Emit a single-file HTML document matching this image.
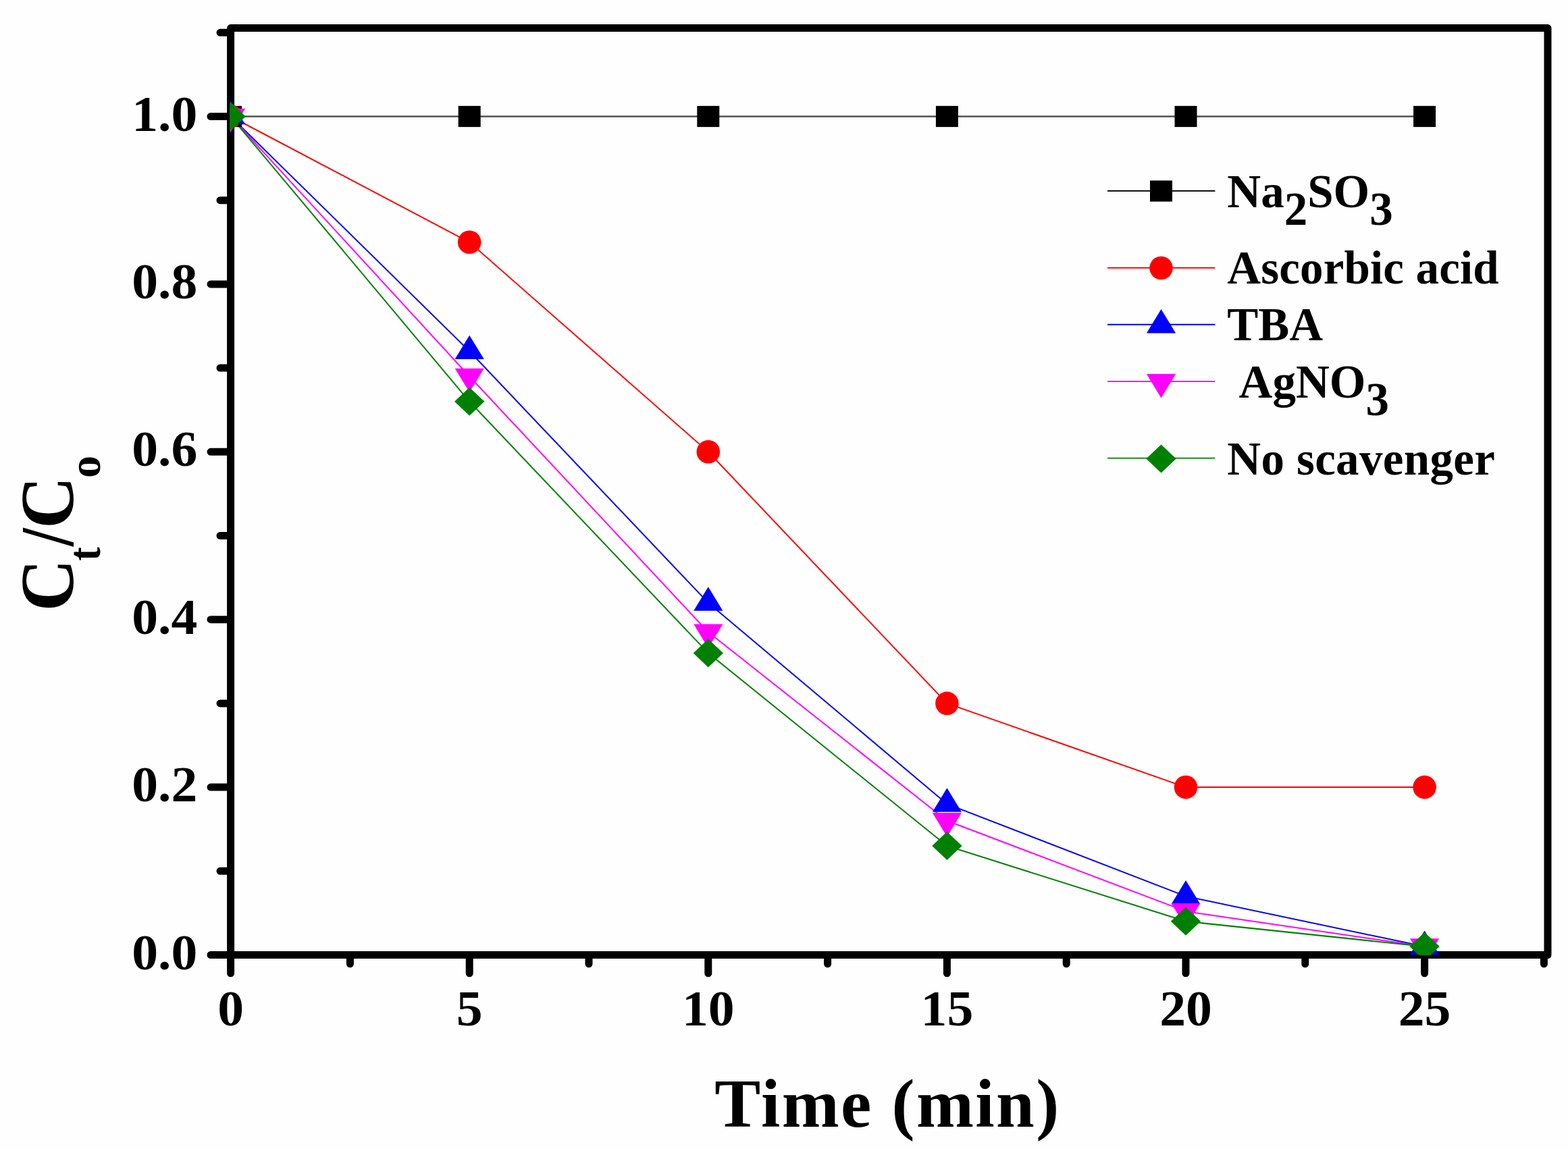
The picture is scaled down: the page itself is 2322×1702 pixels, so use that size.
<!DOCTYPE html>
<html><head><meta charset="utf-8"><title>Ct/Co vs Time</title>
<style>
html,body{margin:0;padding:0;background:#fff;}
svg{display:block;}
text{font-family:"Liberation Serif","Times New Roman",serif;font-weight:bold;fill:#000;}
</style></head><body>
<svg width="2322" height="1702" viewBox="0 0 2322 1702">
<rect width="2322" height="1702" fill="#fefefe"/>
<defs><clipPath id="pc"><rect x="340.2" y="41.6" width="1951.8" height="1373.5"/></clipPath></defs>

<rect x="341.6" y="41.6" width="1950.4" height="1372.9" fill="none" stroke="#000" stroke-width="11" stroke-linejoin="round"/>
<path d="M341.6,1414.5H312M341.6,1166.1H312M341.6,917.7H312M341.6,669.3H312M341.6,420.9H312M341.6,172.5H312M341.6,1290.3H326M341.6,1041.9H326M341.6,793.5H326M341.6,545.1H326M341.6,296.7H326M341.6,48.3H326M341.6,1414.5V1441.8M695.2,1414.5V1441.8M1048.8,1414.5V1441.8M1402.4,1414.5V1441.8M1756.0,1414.5V1441.8M2109.6,1414.5V1441.8M518.4,1414.5V1427.8M872.0,1414.5V1427.8M1225.6,1414.5V1427.8M1579.2,1414.5V1427.8M1932.8,1414.5V1427.8M2286.4,1414.5V1427.8" stroke="#000" stroke-width="11" stroke-linecap="round" fill="none"/>
<g clip-path="url(#pc)">
<polyline points="341.6,172.5 695.2,172.5 1048.8,172.5 1402.4,172.5 1756.0,172.5 2109.6,172.5" fill="none" stroke="#505050" stroke-width="2.4" stroke-linejoin="round"/>
<polyline points="341.6,172.5 695.2,358.8 1048.8,669.3 1402.4,1041.9 1756.0,1166.1 2109.6,1166.1" fill="none" stroke="#ff0000" stroke-width="2.0" stroke-linejoin="round"/>
<polyline points="341.6,172.5 695.2,520.3 1048.8,892.9 1402.4,1190.9 1756.0,1327.6 2109.6,1402.1" fill="none" stroke="#0000ff" stroke-width="2.0" stroke-linejoin="round"/>
<polyline points="341.6,172.5 695.2,557.5 1048.8,936.3 1402.4,1215.8 1756.0,1349.9 2109.6,1402.1" fill="none" stroke="#ff00ff" stroke-width="2.0" stroke-linejoin="round"/>
<polyline points="341.6,172.5 695.2,594.8 1048.8,967.4 1402.4,1253.0 1756.0,1364.8 2109.6,1402.1" fill="none" stroke="#008000" stroke-width="2.0" stroke-linejoin="round"/>
<rect x="325.1" y="156.9" width="33" height="31.2" fill="#000000"/>
<rect x="678.7" y="156.9" width="33" height="31.2" fill="#000000"/>
<rect x="1032.3" y="156.9" width="33" height="31.2" fill="#000000"/>
<rect x="1385.9" y="156.9" width="33" height="31.2" fill="#000000"/>
<rect x="1739.5" y="156.9" width="33" height="31.2" fill="#000000"/>
<rect x="2093.1" y="156.9" width="33" height="31.2" fill="#000000"/>
<circle cx="341.6" cy="172.5" r="17.3" fill="#ff0000"/>
<circle cx="695.2" cy="358.8" r="17.3" fill="#ff0000"/>
<circle cx="1048.8" cy="669.3" r="17.3" fill="#ff0000"/>
<circle cx="1402.4" cy="1041.9" r="17.3" fill="#ff0000"/>
<circle cx="1756.0" cy="1166.1" r="17.3" fill="#ff0000"/>
<circle cx="2109.6" cy="1166.1" r="17.3" fill="#ff0000"/>
<polygon points="341.6,148.9 363.2,184.3 320.0,184.3" fill="#0000ff"/>
<polygon points="695.2,496.7 716.8,532.1 673.6,532.1" fill="#0000ff"/>
<polygon points="1048.8,869.3 1070.4,904.7 1027.2,904.7" fill="#0000ff"/>
<polygon points="1402.4,1167.3 1424.0,1202.7 1380.8,1202.7" fill="#0000ff"/>
<polygon points="1756.0,1304.0 1777.6,1339.4 1734.4,1339.4" fill="#0000ff"/>
<polygon points="2109.6,1378.5 2131.2,1413.9 2088.0,1413.9" fill="#0000ff"/>
<polygon points="320.0,160.7 363.2,160.7 341.6,196.1" fill="#ff00ff"/>
<polygon points="673.6,545.7 716.8,545.7 695.2,581.1" fill="#ff00ff"/>
<polygon points="1027.2,924.5 1070.4,924.5 1048.8,959.9" fill="#ff00ff"/>
<polygon points="1380.8,1204.0 1424.0,1204.0 1402.4,1239.4" fill="#ff00ff"/>
<polygon points="1734.4,1338.1 1777.6,1338.1 1756.0,1373.5" fill="#ff00ff"/>
<polygon points="2088.0,1390.3 2131.2,1390.3 2109.6,1425.7" fill="#ff00ff"/>
<polygon points="341.6,151.5 363.8,172.5 341.6,193.5 319.4,172.5" fill="#008000"/>
<polygon points="695.2,573.8 717.4,594.8 695.2,615.8 673.0,594.8" fill="#008000"/>
<polygon points="1048.8,946.4 1071.0,967.4 1048.8,988.4 1026.6,967.4" fill="#008000"/>
<polygon points="1402.4,1232.0 1424.6,1253.0 1402.4,1274.0 1380.2,1253.0" fill="#008000"/>
<polygon points="1756.0,1343.8 1778.2,1364.8 1756.0,1385.8 1733.8,1364.8" fill="#008000"/>
<polygon points="2109.6,1381.1 2131.8,1402.1 2109.6,1423.1 2087.4,1402.1" fill="#008000"/>
</g>
<text transform="translate(292.3,1435.5) scale(1.05,1)" font-size="74" text-anchor="end">0.0</text>
<text transform="translate(292.3,1187.1) scale(1.05,1)" font-size="74" text-anchor="end">0.2</text>
<text transform="translate(292.3,938.7) scale(1.05,1)" font-size="74" text-anchor="end">0.4</text>
<text transform="translate(292.3,690.3) scale(1.05,1)" font-size="74" text-anchor="end">0.6</text>
<text transform="translate(292.3,441.9) scale(1.05,1)" font-size="74" text-anchor="end">0.8</text>
<text transform="translate(292.3,193.5) scale(1.05,1)" font-size="74" text-anchor="end">1.0</text>
<text transform="translate(341.6,1519) scale(1.05,1)" font-size="74" text-anchor="middle">0</text>
<text transform="translate(695.2,1519) scale(1.05,1)" font-size="74" text-anchor="middle">5</text>
<text transform="translate(1048.8,1519) scale(1.05,1)" font-size="74" text-anchor="middle">10</text>
<text transform="translate(1402.4,1519) scale(1.05,1)" font-size="74" text-anchor="middle">15</text>
<text transform="translate(1756.0,1519) scale(1.05,1)" font-size="74" text-anchor="middle">20</text>
<text transform="translate(2109.6,1519) scale(1.05,1)" font-size="74" text-anchor="middle">25</text>
<text x="1058.3" y="1668.7" font-size="102" letter-spacing="2.4">Time (min)</text>
<g transform="translate(108.3,0) rotate(-90)"><text transform="translate(-905.6,0) scale(0.955,1)" font-size="112">C</text><text transform="translate(-830.7,40) scale(0.9,1)" font-size="68">t</text><text transform="translate(-808.9,0) scale(0.85,1)" font-size="112">/</text><text transform="translate(-783.1,0) scale(0.955,1)" font-size="112">C</text><text transform="translate(-708,40) scale(1.0,1)" font-size="66">o</text></g>
<line x1="1640" y1="282.7" x2="1799.4" y2="282.7" stroke="#000" stroke-width="1.9"/>
<rect x="1703.0" y="267.4" width="33" height="31.2" fill="#000000"/>
<text x="1817.3" y="306.5" font-size="69"><tspan>Na</tspan><tspan dy="26">2</tspan><tspan dy="-26">SO</tspan><tspan dy="26">3</tspan></text>
<line x1="1640" y1="396.8" x2="1799.4" y2="396.8" stroke="#ff0000" stroke-width="1.9"/>
<circle cx="1719.5" cy="397.0" r="17.3" fill="#ff0000"/>
<text x="1817.3" y="419.8" font-size="69"><tspan letter-spacing="0.15">Ascorbic acid</tspan></text>
<line x1="1640" y1="480.7" x2="1799.4" y2="480.7" stroke="#0000ff" stroke-width="1.9"/>
<polygon points="1719.5,458.1 1741.1,493.5 1697.9,493.5" fill="#0000ff"/>
<text x="1817.3" y="504.0" font-size="69">TBA</text>
<line x1="1640" y1="565.0" x2="1799.4" y2="565.0" stroke="#ff00ff" stroke-width="1.9"/>
<polygon points="1697.9,554.0 1741.1,554.0 1719.5,589.4" fill="#ff00ff"/>
<text x="1817.3" y="589.2" font-size="69"> AgNO<tspan dy="25.5">3</tspan></text>
<line x1="1640" y1="678.6" x2="1799.4" y2="678.6" stroke="#008000" stroke-width="1.9"/>
<polygon points="1719.5,658.6 1741.7,679.6 1719.5,700.6 1697.3,679.6" fill="#008000"/>
<text x="1817.3" y="702.8" font-size="69"><tspan letter-spacing="0.35">No scavenger</tspan></text>
</svg></body></html>
